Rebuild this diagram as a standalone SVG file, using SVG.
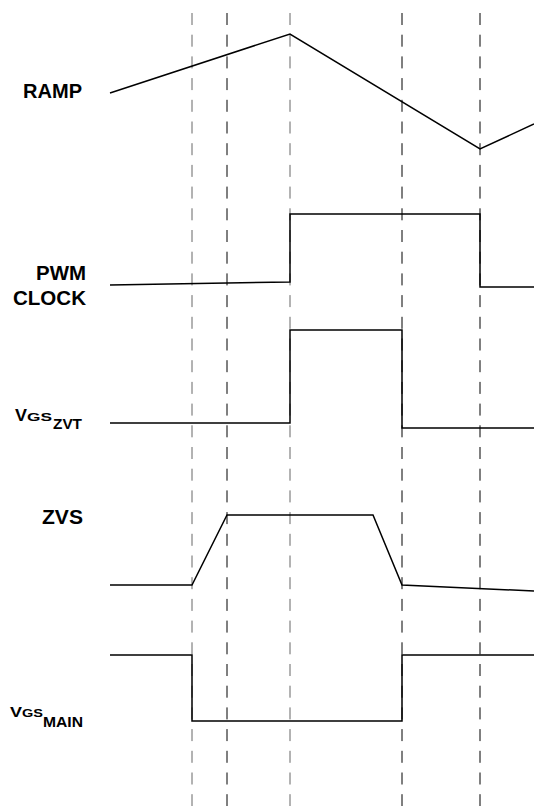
<svg xmlns="http://www.w3.org/2000/svg" width="534" height="806" viewBox="0 0 534 806">
<style>
.bg{fill:#fff}
.grid line{stroke-width:1;stroke-dasharray:12 9.7}
.gk{stroke:#000}
.gg{stroke:#666}
.wave{fill:none;stroke:#000;stroke-width:1.5;stroke-linejoin:miter}
.lbl{font-family:"Liberation Sans",Arial,sans-serif;font-weight:bold;font-size:20px;fill:#000}
</style>
<rect class="bg" width="534" height="806"/>
<g id="connectors">
<g class="grid">
<line class="gg" x1="192" y1="13" x2="192" y2="806"/>
<line class="gk" x1="227" y1="13" x2="227" y2="806"/>
<line class="gg" x1="290" y1="13" x2="290" y2="806"/>
<line class="gk" x1="402" y1="13" x2="402" y2="806"/>
<line class="gk" x1="480" y1="13" x2="480" y2="806"/>
</g>
</g>
<g id="ramp">
<text class="lbl" x="23" y="98" textLength="59" lengthAdjust="spacingAndGlyphs">RAMP</text>
<polyline class="wave" points="110,93 290,34 480,149 534,124"/>
</g>
<g id="pwm">
<text class="lbl" x="36" y="280" textLength="50" lengthAdjust="spacingAndGlyphs">PWM</text>
<text class="lbl" x="13" y="305" textLength="73" lengthAdjust="spacingAndGlyphs">CLOCK</text>
<polyline class="wave" points="110,285 290,282 290,214 480,214 480,287 534,287"/>
</g>
<g id="vgszvt">
<text class="lbl" style="font-size:17px" x="15" y="421" textLength="12" lengthAdjust="spacingAndGlyphs">V</text>
<text class="lbl" style="font-size:11.5px" x="27" y="421" textLength="25" lengthAdjust="spacingAndGlyphs">GS</text>
<text class="lbl" style="font-size:15.5px" x="53" y="429" textLength="29" lengthAdjust="spacingAndGlyphs">ZVT</text>
<polyline class="wave" points="110,423 290,423 290,330 402,330 402,428 534,428"/>
</g>
<g id="zvs">
<text class="lbl" x="42" y="524" textLength="41" lengthAdjust="spacingAndGlyphs">ZVS</text>
<polyline class="wave" points="110,585 192,585 227,515 373,515 402,585 534,591"/>
</g>
<g id="vgsmain">
<text class="lbl" style="font-size:14.5px" x="10" y="717" textLength="12" lengthAdjust="spacingAndGlyphs">V</text>
<text class="lbl" style="font-size:11.5px" x="22" y="717" textLength="21" lengthAdjust="spacingAndGlyphs">GS</text>
<text class="lbl" style="font-size:14.5px" x="43" y="727" textLength="40" lengthAdjust="spacingAndGlyphs">MAIN</text>
<polyline class="wave" points="110,655 192,655 192,721 402,721 402,655 534,655"/>
</g>
</svg>
